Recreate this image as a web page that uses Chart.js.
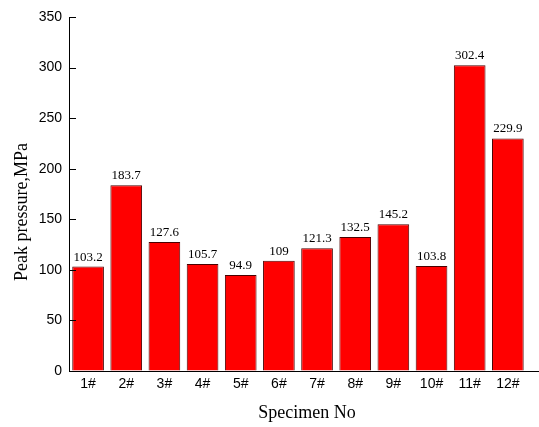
<!DOCTYPE html>
<html>
<head>
<meta charset="utf-8">
<title>Peak pressure by specimen</title>
<script src="https://cdn.jsdelivr.net/npm/chart.js@4/dist/chart.umd.min.js"></script>
<style>
  html, body { margin: 0; padding: 0; background: #fff; }
  #wrap { width: 539px; height: 427px; }
</style>
</head>
<body>
<div id="wrap"><canvas id="c" width="539" height="427"></canvas></div>
<script>
// Specimen labels and measured peak pressure (MPa)
const specimens = ['1#', '2#', '3#', '4#', '5#', '6#', '7#', '8#', '9#', '10#', '11#', '12#'];
const peakPressure = [103.2, 183.7, 127.6, 105.7, 94.9, 109, 121.3, 132.5, 145.2, 103.8, 302.4, 229.9];
const yTicks = [0, 50, 100, 150, 200, 250, 300, 350];

const xTitle = 'Specimen No';
const yTitle = 'Peak pressure,MPa';

const serif = '"Liberation Serif", "Times New Roman", serif';
const sans = '"Liberation Sans", Arial, sans-serif';

// Value labels above each bar
const valueLabels = {
  id: 'valueLabels',
  afterDatasetsDraw(chart) {
    const ctx = chart.ctx;
    const meta = chart.getDatasetMeta(0);
    ctx.save();
    ctx.font = '13px ' + serif;
    ctx.fillStyle = '#000';
    ctx.textAlign = 'center';
    ctx.textBaseline = 'bottom';
    meta.data.forEach((bar, i) => {
      ctx.fillText(String(peakPressure[i]), bar.x, bar.y - 3);
    });
    ctx.restore();
  }
};

// Inward tick marks on the value axis and the two axis titles
const axisDecor = {
  id: 'axisDecor',
  afterDraw(chart) {
    const ctx = chart.ctx;
    const y = chart.scales.y;
    const area = chart.chartArea;
    ctx.save();
    ctx.strokeStyle = '#000';
    ctx.lineWidth = 1;
    ctx.beginPath();
    yTicks.forEach(v => {
      const py = Math.round(y.getPixelForValue(v)) + 0.5;
      ctx.moveTo(area.left, py);
      ctx.lineTo(area.left + 7, py);
    });
    ctx.stroke();

    ctx.fillStyle = '#000';
    ctx.font = '18px ' + serif;
    ctx.textAlign = 'center';
    ctx.textBaseline = 'middle';
    ctx.fillText(xTitle, 307, 413);

    ctx.translate(22, 212);
    ctx.rotate(-Math.PI / 2);
    ctx.fillText(yTitle, 0, 0);
    ctx.restore();
  }
};

new Chart(document.getElementById('c'), {
  type: 'bar',
  data: {
    datasets: [{
      data: peakPressure.map((v, i) => ({ x: i + 1, y: v })),
      backgroundColor: '#ff0000',
      borderColor: '#4a0000',
      borderWidth: 1,
      barPercentage: 0.83,
      categoryPercentage: 1
    }]
  },
  options: {
    responsive: false,
    animation: false,
    layout: { padding: { top: 17, right: 1, left: 0, bottom: 0 } },
    plugins: {
      legend: { display: false },
      tooltip: { enabled: false }
    },
    scales: {
      x: {
        type: 'linear',
        offset: false,
        min: 0.5,
        max: 12.79,
        grid: { display: false, drawTicks: false, offset: false },
        border: { display: true, color: '#000', width: 1 },
        afterBuildTicks: s => { s.ticks = specimens.map((_, i) => ({ value: i + 1 })); },
        ticks: {
          autoSkip: false,
          maxRotation: 0,
          padding: 5,
          color: '#000',
          font: { family: sans, size: 14 },
          callback: function (v) {
            const n = Math.round(v);
            return n >= 1 && n <= specimens.length ? specimens[n - 1] : '';
          }
        },
        afterFit: s => { s.height = 56; }
      },
      y: {
        min: 0,
        max: 350,
        grid: { drawOnChartArea: false, drawTicks: false },
        border: { display: true, color: '#000', width: 1 },
        ticks: {
          stepSize: 50,
          padding: 7,
          color: '#000',
          font: { family: sans, size: 14 }
        },
        afterFit: s => { s.width = 69; }
      }
    }
  },
  plugins: [valueLabels, axisDecor]
});
</script>
</body>
</html>
